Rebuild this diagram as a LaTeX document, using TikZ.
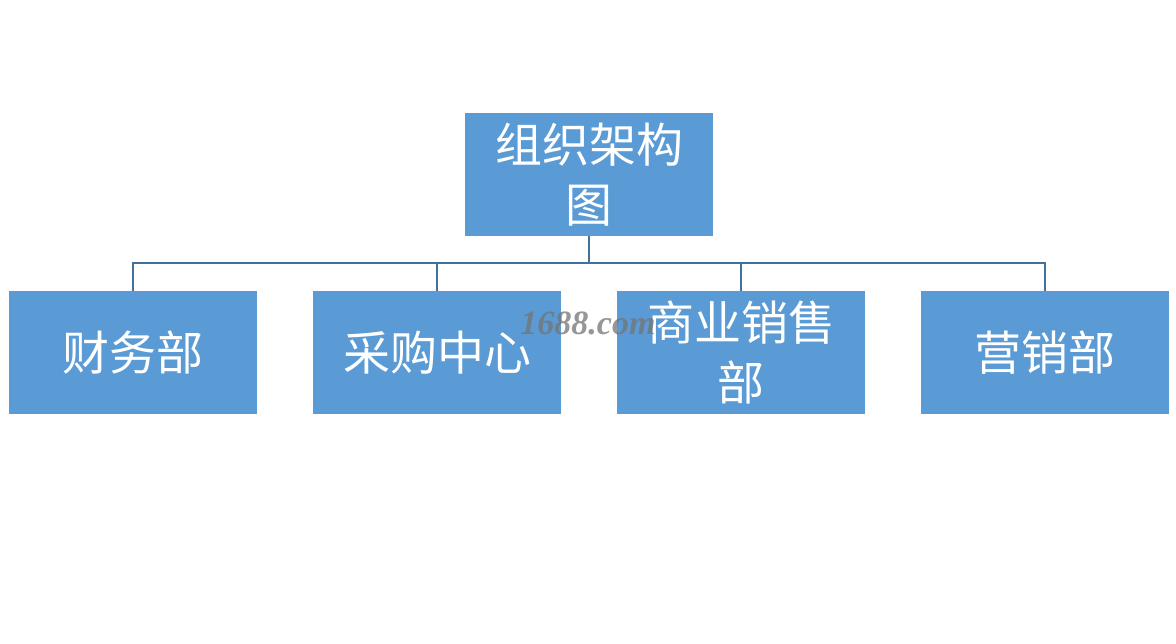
\documentclass[tikz,border=0pt]{standalone}
\usepackage{fontspec}
\newfontfamily\cjk{Noto Sans CJK SC}
\newfontfamily\wm{Liberation Serif}
\begin{document}
\begin{tikzpicture}[x=1pt,y=-1pt,
  orgbox/.style={fill=boxblue,draw=none,minimum width=248pt,minimum height=123pt,
    align=center,text=white,inner sep=0pt,
    font=\cjk\fontsize{47}{60}\selectfont},
  link/.style={draw=linkblue,line width=1.6pt}]
\definecolor{boxblue}{HTML}{5B9BD5}
\definecolor{linkblue}{HTML}{41719C}
\useasboundingbox (0,0) rectangle (1176,644);
\fill[white] (0,0) rectangle (1176,644);
\node[orgbox] (top) at (589,174.5) {组织架构\\图};
\node[orgbox] (a) at (133,352.5) {财务部};
\node[orgbox] (b) at (437,352.5) {采购中心};
\node[orgbox] (c) at (741,352.5) {商业销售\\部};
\node[orgbox] (d) at (1045,352.5) {营销部};
\coordinate (j) at (589,263);
\draw[link] (top.south) -- (j);
\draw[link] (a.north) |- (j);
\draw[link] (d.north) |- (j);
\draw[link] (b.north) -- (b.north |- j);
\draw[link] (c.north) -- (c.north |- j);
\node[font=\wm\bfseries\itshape\fontsize{34}{36}\selectfont,text=black!55,opacity=0.75] (w) at (588,323) {1688.com};
\end{tikzpicture}
\end{document}
